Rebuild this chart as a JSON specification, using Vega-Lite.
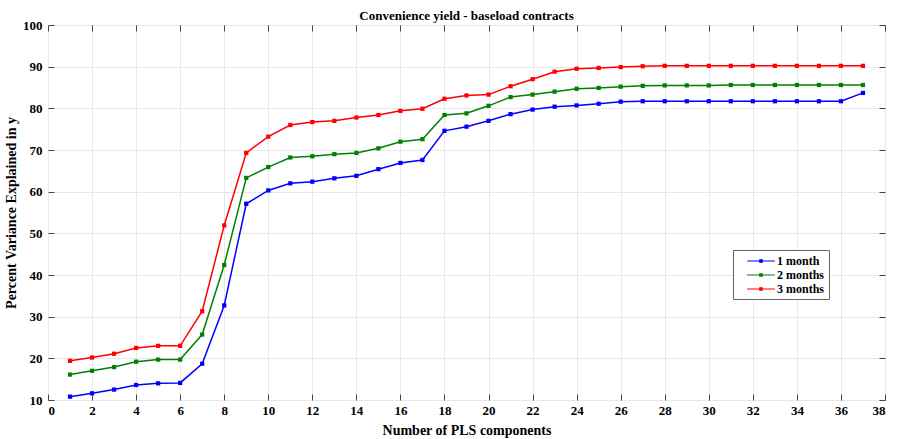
{
  "$schema": "https://vega.github.io/schema/vega-lite/v6.json",
  "width": 837,
  "height": 375,
  "autosize": {"type": "none"},
  "padding": {"left": 48, "top": 25, "right": 13, "bottom": 39},
  "background": "white",
  "title": {"text": "Convenience yield - baseload contracts", "font": "Liberation Serif", "fontSize": 13, "fontWeight": "bold", "color": "#000", "offset": -4},
  "config": {
    "view": {"stroke": "#444", "strokeWidth": 1},
    "axis": {"labelFont": "Liberation Serif", "labelFontSize": 13, "labelFontWeight": "bold", "labelColor": "#000",
             "titleFont": "Liberation Serif", "titleFontSize": 14, "titleFontWeight": "bold", "titleColor": "#000",
             "gridColor": "#e8e8e8", "gridWidth": 1, "domain": false, "tickColor": "#444", "tickSize": -6}
  },
  "data": {"values": [
    {"n":1,"s":"1 month","v":10.8},{"n":2,"s":"1 month","v":11.6},{"n":3,"s":"1 month","v":12.5},{"n":4,"s":"1 month","v":13.6},{"n":5,"s":"1 month","v":14.0},{"n":6,"s":"1 month","v":14.1},{"n":7,"s":"1 month","v":18.7},{"n":8,"s":"1 month","v":32.7},{"n":9,"s":"1 month","v":57.1},{"n":10,"s":"1 month","v":60.3},{"n":11,"s":"1 month","v":62.0},{"n":12,"s":"1 month","v":62.4},{"n":13,"s":"1 month","v":63.2},{"n":14,"s":"1 month","v":63.8},{"n":15,"s":"1 month","v":65.4},{"n":16,"s":"1 month","v":66.9},{"n":17,"s":"1 month","v":67.6},{"n":18,"s":"1 month","v":74.6},{"n":19,"s":"1 month","v":75.6},{"n":20,"s":"1 month","v":77.0},{"n":21,"s":"1 month","v":78.6},{"n":22,"s":"1 month","v":79.7},{"n":23,"s":"1 month","v":80.4},{"n":24,"s":"1 month","v":80.7},{"n":25,"s":"1 month","v":81.1},{"n":26,"s":"1 month","v":81.6},{"n":27,"s":"1 month","v":81.7},{"n":28,"s":"1 month","v":81.7},{"n":29,"s":"1 month","v":81.7},{"n":30,"s":"1 month","v":81.7},{"n":31,"s":"1 month","v":81.7},{"n":32,"s":"1 month","v":81.7},{"n":33,"s":"1 month","v":81.7},{"n":34,"s":"1 month","v":81.7},{"n":35,"s":"1 month","v":81.7},{"n":36,"s":"1 month","v":81.7},{"n":37,"s":"1 month","v":83.7},
    {"n":1,"s":"2 months","v":16.1},{"n":2,"s":"2 months","v":17.0},{"n":3,"s":"2 months","v":17.9},{"n":4,"s":"2 months","v":19.2},{"n":5,"s":"2 months","v":19.7},{"n":6,"s":"2 months","v":19.7},{"n":7,"s":"2 months","v":25.7},{"n":8,"s":"2 months","v":42.4},{"n":9,"s":"2 months","v":63.3},{"n":10,"s":"2 months","v":65.9},{"n":11,"s":"2 months","v":68.2},{"n":12,"s":"2 months","v":68.5},{"n":13,"s":"2 months","v":69.0},{"n":14,"s":"2 months","v":69.3},{"n":15,"s":"2 months","v":70.4},{"n":16,"s":"2 months","v":72.0},{"n":17,"s":"2 months","v":72.6},{"n":18,"s":"2 months","v":78.4},{"n":19,"s":"2 months","v":78.8},{"n":20,"s":"2 months","v":80.6},{"n":21,"s":"2 months","v":82.7},{"n":22,"s":"2 months","v":83.3},{"n":23,"s":"2 months","v":84.0},{"n":24,"s":"2 months","v":84.7},{"n":25,"s":"2 months","v":84.9},{"n":26,"s":"2 months","v":85.2},{"n":27,"s":"2 months","v":85.4},{"n":28,"s":"2 months","v":85.5},{"n":29,"s":"2 months","v":85.5},{"n":30,"s":"2 months","v":85.5},{"n":31,"s":"2 months","v":85.6},{"n":32,"s":"2 months","v":85.6},{"n":33,"s":"2 months","v":85.6},{"n":34,"s":"2 months","v":85.6},{"n":35,"s":"2 months","v":85.6},{"n":36,"s":"2 months","v":85.6},{"n":37,"s":"2 months","v":85.6},
    {"n":1,"s":"3 months","v":19.4},{"n":2,"s":"3 months","v":20.2},{"n":3,"s":"3 months","v":21.1},{"n":4,"s":"3 months","v":22.5},{"n":5,"s":"3 months","v":23.0},{"n":6,"s":"3 months","v":23.0},{"n":7,"s":"3 months","v":31.3},{"n":8,"s":"3 months","v":51.9},{"n":9,"s":"3 months","v":69.3},{"n":10,"s":"3 months","v":73.2},{"n":11,"s":"3 months","v":76.0},{"n":12,"s":"3 months","v":76.7},{"n":13,"s":"3 months","v":77.0},{"n":14,"s":"3 months","v":77.8},{"n":15,"s":"3 months","v":78.4},{"n":16,"s":"3 months","v":79.4},{"n":17,"s":"3 months","v":79.9},{"n":18,"s":"3 months","v":82.3},{"n":19,"s":"3 months","v":83.1},{"n":20,"s":"3 months","v":83.3},{"n":21,"s":"3 months","v":85.3},{"n":22,"s":"3 months","v":87.0},{"n":23,"s":"3 months","v":88.8},{"n":24,"s":"3 months","v":89.5},{"n":25,"s":"3 months","v":89.7},{"n":26,"s":"3 months","v":89.9},{"n":27,"s":"3 months","v":90.1},{"n":28,"s":"3 months","v":90.2},{"n":29,"s":"3 months","v":90.2},{"n":30,"s":"3 months","v":90.2},{"n":31,"s":"3 months","v":90.2},{"n":32,"s":"3 months","v":90.2},{"n":33,"s":"3 months","v":90.2},{"n":34,"s":"3 months","v":90.2},{"n":35,"s":"3 months","v":90.2},{"n":36,"s":"3 months","v":90.2},{"n":37,"s":"3 months","v":90.2}
  ]},
  "layer": [
    {
      "mark": {"type": "line", "strokeWidth": 1.5, "point": {"shape": "square", "size": 18, "filled": true}},
      "encoding": {
        "x": {"field": "n", "type": "quantitative", "scale": {"domain": [0, 38], "nice": false},
              "axis": {"values": [0,2,4,6,8,10,12,14,16,18,20,22,24,26,28,30,32,34,36,38], "title": "Number of PLS components", "titlePadding": 6, "labelPadding": 10}},
        "y": {"field": "v", "type": "quantitative", "scale": {"domain": [10, 100], "nice": false},
              "axis": {"values": [10,20,30,40,50,60,70,80,90,100], "title": "Percent Variance Explained in y", "titlePadding": 4, "labelPadding": 12}},
        "color": {"field": "s", "type": "nominal",
                  "scale": {"domain": ["1 month", "2 months", "3 months"], "range": ["#0000ff", "#008000", "#ff0000"]},
                  "legend": {"title": null, "orient": "none", "legendX": 685, "legendY": 225,
                             "labelFont": "Liberation Serif", "labelFontSize": 12, "labelFontWeight": "bold", "labelColor": "#000",
                             "symbolType": "M-2.3,0H2.3M-0.2,-0.2H0.2V0.2H-0.2Z", "symbolSize": 144, "symbolStrokeWidth": 1.2,
                             "symbolOffset": 17, "labelOffset": 9, "rowPadding": 1, "padding": 4, "strokeColor": "#666", "fillColor": "white",
                             "encode": {"symbols": {"update": {"stroke": {"field": "value", "scale": "color"}, "fill": {"field": "value", "scale": "color"}}}}}}
      }
    },
    {
      "mark": {"type": "line", "opacity": 0},
      "encoding": {
        "x": {"field": "n", "type": "quantitative", "axis": {"orient": "top", "labels": false, "grid": false, "title": null, "values": [0,2,4,6,8,10,12,14,16,18,20,22,24,26,28,30,32,34,36,38]}},
        "y": {"field": "v", "type": "quantitative", "axis": {"orient": "right", "labels": false, "grid": false, "title": null, "values": [10,20,30,40,50,60,70,80,90,100]}}
      }
    }
  ],
  "resolve": {"axis": {"x": "independent", "y": "independent"}}
}
